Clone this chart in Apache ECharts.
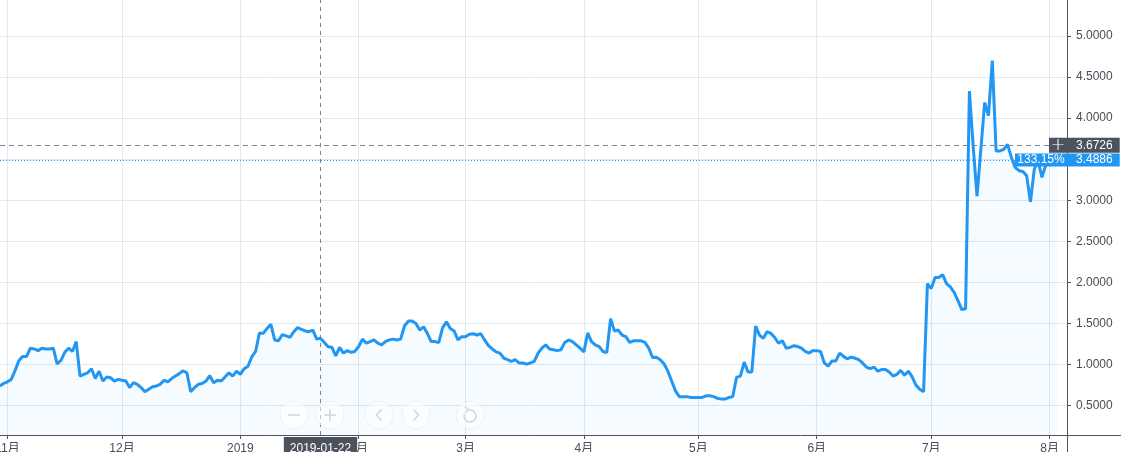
<!DOCTYPE html>
<html>
<head>
<meta charset="utf-8">
<script src="https://cdn.jsdelivr.net/npm/echarts@6/dist/echarts.min.js"></script>
<style>
html,body{margin:0;padding:0;background:#ffffff;}
#chart{width:1121px;height:452px;}
</style>
</head>
<body>
<div id="chart"></div>
<script>
// ---------------- data ----------------
const startDate = '2018-10-30';           // first daily value
const values = [
  0.74, 0.77,
  0.79, 0.82, 0.93, 1.05, 1.10, 1.10, 1.20, 1.19, 1.17, 1.20,
  1.19, 1.19, 1.20, 1.01, 1.05, 1.15, 1.20, 1.16, 1.28, 0.86,
  0.88, 0.90, 0.95, 0.83, 0.92, 0.80, 0.85, 0.84, 0.80, 0.82,
  0.81, 0.80, 0.72, 0.78, 0.76, 0.72, 0.67, 0.70, 0.73, 0.74,
  0.76, 0.81, 0.79, 0.83, 0.86, 0.89, 0.925, 0.90, 0.67, 0.72,
  0.76, 0.77, 0.80, 0.865, 0.78, 0.81, 0.80, 0.85, 0.90, 0.86,
  0.92, 0.88, 0.95, 0.98, 1.095, 1.16, 1.385, 1.38, 1.44, 1.49,
  1.30, 1.29, 1.365, 1.35, 1.33, 1.40, 1.45, 1.43, 1.41, 1.40,
  1.42, 1.31, 1.32, 1.27, 1.216, 1.21, 1.107, 1.21, 1.14, 1.17,
  1.15, 1.16, 1.22, 1.31, 1.26, 1.28, 1.30, 1.26, 1.24, 1.28,
  1.30, 1.31, 1.30, 1.31, 1.47, 1.53, 1.53, 1.50, 1.42, 1.46,
  1.38, 1.28, 1.28, 1.27, 1.45, 1.52, 1.44, 1.41, 1.30, 1.34,
  1.34, 1.37, 1.375, 1.36, 1.375, 1.30, 1.23, 1.19, 1.155, 1.14,
  1.08, 1.06, 1.04, 1.06, 1.02, 1.02, 1.006, 1.02, 1.04, 1.14,
  1.20, 1.24, 1.19, 1.18, 1.17, 1.18, 1.27, 1.30, 1.28, 1.24,
  1.20, 1.155, 1.385, 1.28, 1.24, 1.22, 1.16, 1.145, 1.56, 1.41,
  1.42, 1.36, 1.34, 1.27, 1.29, 1.29, 1.29, 1.27, 1.20, 1.087,
  1.09, 1.06, 1.01, 0.92, 0.80, 0.68, 0.61, 0.61, 0.61, 0.60,
  0.60, 0.60, 0.60, 0.62, 0.62, 0.61, 0.59, 0.58, 0.58, 0.60,
  0.61, 0.845, 0.86, 1.03, 0.91, 0.91, 1.47, 1.36, 1.32, 1.40,
  1.38, 1.33, 1.26, 1.29, 1.20, 1.21, 1.23, 1.22, 1.20, 1.16,
  1.14, 1.17, 1.17, 1.16, 1.02, 0.98, 1.045, 1.045, 1.14, 1.10,
  1.07, 1.09, 1.08, 1.06, 1.02, 0.97, 0.95, 0.97, 0.92, 0.94,
  0.94, 0.91, 0.86, 0.88, 0.93, 0.87, 0.92, 0.85, 0.75, 0.70,
  0.67, 1.985, 1.925, 2.06, 2.06, 2.095, 1.985, 1.945, 1.88, 1.78,
  1.67, 1.68, 4.33, 3.65, 3.05, 3.62, 4.19, 4.03, 4.70, 3.60,
  3.60, 3.62, 3.68, 3.52, 3.40, 3.36, 3.35, 3.30, 2.98, 3.38,
  3.48, 3.28, 3.43, 3.45, 3.47, 3.4886
];
const monthTicks = ['2018-11-01','2018-12-01','2019-01-01','2019-02-01','2019-03-01',
                    '2019-04-01','2019-05-01','2019-06-01','2019-07-01','2019-08-01'];
const monthLabels = ['11月','12月','2019','2月','3月','4月','5月','6月','7月','8月'];
const yTicks = [0.5, 1.0, 1.5, 2.0, 2.5, 3.0, 3.5, 4.0, 4.5, 5.0];
const xWindow = ['2018-10-30T00:50:00Z', '2019-08-05T13:40:00Z'];
const yWindow = [0.143, 5.438];
const crosshairDate = '2019-01-22';
const crosshairValue = 3.6726;
const lastValue = 3.4886;
const lastChange = '133.15%';

// ---------------- build ----------------
const DAY = 86400000;
const toT = s => Date.parse(s.length === 10 ? s + 'T00:00:00Z' : s);
const t0 = toT(startDate);
const seriesData = values.map((v, i) => [t0 + i * DAY, v]);
const monthTickTimes = monthTicks.map(toT);

const FONT = "'Liberation Sans', Arial, 'Noto Sans CJK SC', sans-serif";
const AXIS_COLOR = '#50535e';
const TEXT_COLOR = '#4a4d57';
const GRID_COLOR = '#e1eaf0';
const BLUE = '#2196f3';
const DARK = '#4c525e';

const chart = echarts.init(document.getElementById('chart'), null, {renderer: 'canvas'});

const btnCircle = (cx) => ({
  type: 'circle', shape: {cx: cx, cy: 415, r: 14}, silent: true, z: 50,
  style: {fill: 'rgba(255,255,255,0.5)', stroke: 'rgba(190,200,206,0.2)', lineWidth: 1}
});
const ICON = {stroke: '#d3d7db', lineWidth: 1.6, fill: null};

chart.setOption({
  animation: false,
  backgroundColor: '#ffffff',
  textStyle: {fontFamily: FONT},
  grid: {left: 0, right: 54, top: 0, bottom: 17, containLabel: false, outerBoundsMode: 'none'},
  xAxis: {
    type: 'value',
    scale: true,
    min: toT(xWindow[0]),
    max: toT(xWindow[1]),
    axisLine: {show: true, onZero: false, lineStyle: {color: AXIS_COLOR, width: 1}},
    axisTick: {show: true, length: 4, lineStyle: {color: AXIS_COLOR}, customValues: monthTickTimes},
    axisLabel: {
      show: true, customValues: monthTickTimes, margin: 8,
      color: TEXT_COLOR, fontSize: 12, fontFamily: FONT,
      showMinLabel: true, showMaxLabel: true,
      formatter: function (val) {
        let best = 0, bd = Infinity;
        monthTickTimes.forEach((t, i) => { const d = Math.abs(t - val); if (d < bd) { bd = d; best = i; } });
        return monthLabels[best];
      }
    },
    splitLine: {show: true, lineStyle: {color: GRID_COLOR, width: 1}},
    axisPointer: {show: false}
  },
  yAxis: {
    type: 'value',
    position: 'right',
    scale: true,
    min: yWindow[0],
    max: yWindow[1],
    axisLine: {show: true, lineStyle: {color: AXIS_COLOR, width: 1}},
    axisTick: {show: true, length: 4, lineStyle: {color: AXIS_COLOR}, customValues: yTicks},
    axisLabel: {
      show: true, customValues: yTicks, margin: 9,
      color: TEXT_COLOR, fontSize: 12, fontFamily: FONT,
      formatter: v => Number(v).toFixed(4)
    },
    splitLine: {show: true, lineStyle: {color: GRID_COLOR, width: 1}}
  },
  series: [{
    type: 'line',
    data: seriesData,
    symbol: 'none',
    showSymbol: false,
    smooth: false,
    clip: true,
    lineStyle: {color: BLUE, width: 3},
    areaStyle: {color: 'rgba(33,150,243,0.055)'},
    markLine: {
      silent: true,
      symbol: ['none', 'none'],
      animation: false,
      data: [
        {
          xAxis: toT(crosshairDate),
          lineStyle: {color: '#758696', type: [4, 4], width: 1},
          label: {
            show: true, position: 'start', distance: 2,
            formatter: crosshairDate,
            backgroundColor: DARK, color: '#ffffff', fontSize: 12, fontFamily: FONT,
            padding: [5, 6, 2, 6], lineHeight: 14
          }
        },
        {
          yAxis: crosshairValue,
          lineStyle: {color: '#758696', type: [5, 4], width: 1},
          label: {
            show: true, position: 'end', distance: [-18, 0],
            formatter: '{a|+}{b|' + crosshairValue.toFixed(4) + '}',
            backgroundColor: DARK, padding: [0, 7, 0, 0],
            rich: {
              a: {width: 18, align: 'center', color: '#ffffff', fontSize: 18, lineHeight: 15, fontFamily: 'DejaVu Sans', fontWeight: 'lighter'},
              b: {color: '#ffffff', fontSize: 12, lineHeight: 15, fontFamily: FONT, padding: [0, 0, 0, 9]}
            }
          }
        },
        {
          yAxis: lastValue,
          lineStyle: {color: BLUE, type: [1, 2], width: 1},
          label: {
            show: true, position: 'end', distance: [-52, 0],
            formatter: '{a|' + lastChange + '}{b|' + lastValue.toFixed(4) + '}',
            backgroundColor: BLUE, padding: [0, 7, 0, 0],
            rich: {
              a: {width: 52, align: 'center', color: '#ffffff', fontSize: 12, lineHeight: 13, fontFamily: FONT},
              b: {color: '#ffffff', fontSize: 12, lineHeight: 13, fontFamily: FONT, padding: [0, 0, 0, 9]}
            }
          }
        }
      ]
    }
  }],
  graphic: [
    {type: 'line', silent: true, z: 40, shape: {x1: 1067, y1: 435.5, x2: 1121, y2: 435.5}, style: {stroke: AXIS_COLOR, lineWidth: 1}},
    {type: 'line', silent: true, z: 40, shape: {x1: 1067.5, y1: 435, x2: 1067.5, y2: 452}, style: {stroke: AXIS_COLOR, lineWidth: 1}},
    btnCircle(294), btnCircle(330), btnCircle(379), btnCircle(416), btnCircle(470),
    {type: 'polyline', silent: true, z: 51, shape: {points: [[288, 415], [300, 415]]}, style: ICON},
    {type: 'polyline', silent: true, z: 51, shape: {points: [[324, 415], [336, 415]]}, style: ICON},
    {type: 'polyline', silent: true, z: 51, shape: {points: [[330, 409], [330, 421]]}, style: ICON},
    {type: 'polyline', silent: true, z: 51, shape: {points: [[381.5, 409.5], [376.5, 415], [381.5, 420.5]]}, style: ICON},
    {type: 'polyline', silent: true, z: 51, shape: {points: [[413.5, 409.5], [418.5, 415], [413.5, 420.5]]}, style: ICON},
    {type: 'arc', silent: true, z: 51, shape: {cx: 470, cy: 416, r: 6, startAngle: -Math.PI * 0.55, endAngle: Math.PI * 1.1, clockwise: true}, style: ICON},
    {type: 'polyline', silent: true, z: 51, shape: {points: [[465, 406.5], [468.5, 410], [465, 413]]}, style: ICON}
  ]
});
</script>
</body>
</html>
